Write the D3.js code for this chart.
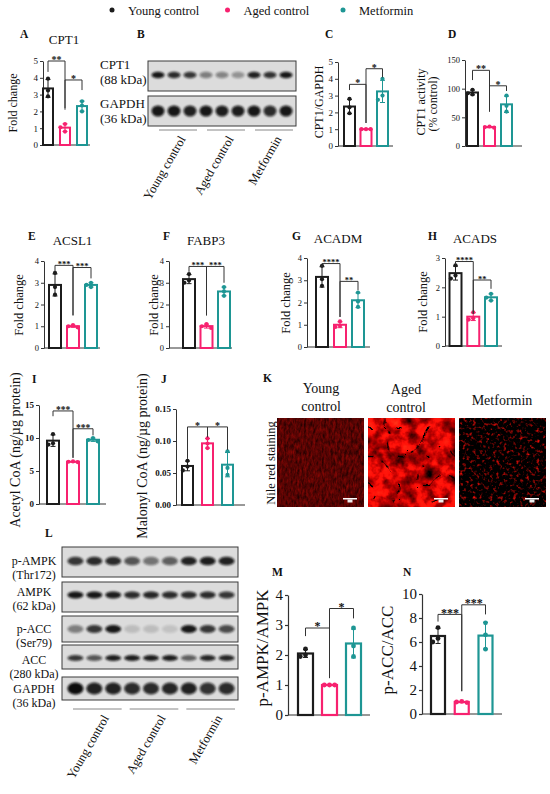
<!DOCTYPE html>
<html>
<head>
<meta charset="utf-8">
<script src="https://cdn.jsdelivr.net/npm/d3@7"></script>
<style>
body { margin: 0; background: #fff; }
svg { display: block; font-family: "Liberation Serif", "Times New Roman", serif; }
</style>
</head>
<body>
<script>
// ------------------------------------------------------------
// Metformin / aged heart: fatty acid oxidation panels A-N
// ------------------------------------------------------------

var groups = ["Young control", "Aged control", "Metformin"];
var groupColors = ["#1c1c1c", "#f7216f", "#1e9694"];

// individual points per group (young, aged, metformin)
var cpt1Fold     = [[3.95, 3.25, 2.9], [1.25, 1.05, 0.8], [2.6, 2.35, 2.0]];
var cpt1Gapdh    = [[2.8, 2.3, 1.95], [1.0, 1.0, 1.0], [4.0, 3.0, 2.75]];
var cpt1Activity = [[98, 92, 90], [34, 33, 32], [88, 70, 60]];
var acsl1        = [[3.45, 2.8, 2.45], [1.05, 1.0, 0.95], [3.0, 2.9, 2.8]];
var fabp3        = [[3.4, 3.1, 3.0], [1.1, 1.0, 0.92], [2.8, 2.6, 2.4]];
var acadm        = [[3.65, 3.05, 2.75], [1.15, 0.95, 0.9], [2.45, 2.05, 1.8]];
var acads        = [[2.75, 2.4, 2.3], [1.15, 0.95, 0.9], [1.78, 1.65, 1.55]];
var acetylCoA    = [[10.6, 9.2, 9.0], [6.45, 6.4, 6.35], [10.0, 9.7, 9.5]];
var malonylCoA   = [[0.069, 0.060, 0.054], [0.104, 0.096, 0.089], [0.084, 0.058, 0.047]];
var pampkRatio   = [[2.2, 2.0, 1.95], [1.0, 1.0, 1.0], [2.9, 2.3, 1.95]];
var paccRatio    = [[7.2, 6.3, 6.0], [1.05, 1.0, 0.95], [7.6, 6.6, 5.4]];

// significance: [from, to, stars, bracket level, left leg end, right leg end]
var cpt1FoldSig     = [[0, 1, "**", 5.0, 4.35, 2.2], [1, 2, "*", 3.87, 2.1, 3.27]];
var cpt1GapdhSig    = [[0, 1, "*", 3.67, 3.33, 1.37], [1, 2, "*", 4.6, 1.37, 4.08]];
var cpt1ActivitySig = [[0, 1, "**", 132, 115, 60], [1, 2, "*", 105, 60, 96]];
var acsl1Sig        = [[0, 1, "***", 3.8, 3.5, 1.5], [1, 2, "***", 3.7, 1.5, 3.2]];
var fabp3Sig        = [[0, 1, "***", 3.75, 3.5, 1.5], [1, 2, "***", 3.75, 1.5, 3.0]];
var acadmSig        = [[0, 1, "****", 3.75, 3.6, 1.35], [1, 2, "**", 2.95, 1.35, 2.55]];
var acadsSig        = [[0, 1, "****", 2.88, 2.78, 1.1], [1, 2, "**", 2.25, 1.1, 1.95]];
var acetylSig       = [[0, 1, "***", 14.1, 13.3, 7.0], [1, 2, "***", 11.4, 7.0, 10.4]];
var malonylSig      = [[0, 1, "*", 0.122, 0.072, 0.106], [1, 2, "*", 0.122, 0.106, 0.086]];
var pampkSig        = [[0, 1, "*", 2.9, 2.63, 1.23], [1, 2, "*", 3.55, 1.23, 3.22]];
var paccSig         = [[0, 1, "***", 8.3, 7.7, 1.9], [1, 2, "***", 9.1, 1.9, 8.3]];

// tick labels
var ticks0to5   = [0, 1, 2, 3, 4, 5];
var ticks0to4   = [0, 1, 2, 3, 4];
var ticks0to3   = [0, 1, 2, 3];
var ticksPct    = [0, 50, 100, 150];
var ticksAcetyl = [0, 5, 10, 15];
var ticksMalon  = [0, 0.05, 0.10, 0.15];
var ticksPacc   = [0, 2, 4, 6, 8, 10];

// western blot band intensities (9 lanes: 3 young, 3 aged, 3 metformin)
var cpt1Bands   = [0.95, 0.85, 0.8, 0.45, 0.42, 0.35, 0.9, 0.82, 0.95];
var gapdhBandsB = [0.95, 0.95, 0.9, 0.95, 0.92, 0.92, 0.95, 0.85, 0.95];
var pampkBands  = [0.8, 0.85, 0.85, 0.65, 0.5, 0.6, 0.9, 0.92, 0.9];
var ampkBands   = [0.95, 0.95, 0.92, 0.85, 0.88, 0.85, 0.85, 0.85, 0.8];
var paccBands   = [0.45, 0.8, 0.95, 0.15, 0.15, 0.12, 0.95, 0.8, 0.7];
var accBands    = [0.8, 0.65, 0.92, 0.92, 0.92, 0.92, 0.6, 0.88, 0.88];
var gapdhBandsL = [1.0, 0.9, 0.9, 0.85, 0.85, 0.88, 0.9, 0.82, 0.85];

var blotBLabels = [["CPT1", "(88 kDa)"], ["GAPDH", "(36 kDa)"]];
var blotLLabels = [["p-AMPK", "(Thr172)"], ["AMPK", "(62 kDa)"], ["p-ACC", "(Ser79)"],
                   ["ACC", "(280 kDa)"], ["GAPDH", "(36 kDa)"]];
var stainTitles = [["Young", "control"], ["Aged", "control"], ["Metformin"]];

var W = 550, H = 794;
var svg = d3.select("body").append("svg")
    .attr("width", W)
    .attr("height", H);

var defs = svg.append("defs");
defs.append("filter").attr("id", "blur")
    .attr("x", "-50%").attr("y", "-80%").attr("width", "200%").attr("height", "260%")
    .append("feGaussianBlur").attr("stdDeviation", 1.1);

function text(x, y, s, size, anchor, weight) {
    return svg.append("text")
        .attr("x", x)
        .attr("y", y)
        .attr("text-anchor", anchor || "start")
        .style("font-size", size + "px")
        .style("font-weight", weight || "normal")
        .attr("fill", "#111")
        .text(s);
}

function yLabel(x, cy, s, size) {
    svg.append("text")
        .attr("transform", "translate(" + x + "," + cy + ") rotate(-90)")
        .attr("text-anchor", "middle")
        .style("font-size", size + "px")
        .attr("fill", "#111")
        .text(s);
}

// simple beeswarm so equal values sit side by side
function swarm(vals, y, r) {
    var placed = [];
    var d = 2 * r + 0.4;
    return vals.map(function(v) {
        var py = y(v);
        var cands = [0, -d, d, -2 * d, 2 * d];
        for (var k = 0; k < cands.length; k++) {
            var ok = placed.every(function(p) {
                return Math.hypot(p[0] - cands[k], p[1] - py) >= 2 * r;
            });
            if (ok) { placed.push([cands[k], py]); return [cands[k], py]; }
        }
        placed.push([0, py]);
        return [0, py];
    });
}

function barPanel(p, data, sigs) {
    var g = svg.append("g");
    var y = d3.scaleLinear().domain(p.domain).range([p.y0, p.y1]);
    var x = d3.scalePoint().domain(d3.range(groups.length)).range(p.c);

    var axis = d3.axisLeft(y)
        .tickValues(p.ticks)
        .tickSize(3)
        .tickSizeOuter(0)
        .tickPadding(2)
        .tickFormat(p.fmt || d3.format("d"));

    var ax = g.append("g")
        .attr("transform", "translate(" + p.ax + ",0)")
        .call(axis);
    ax.select(".domain").attr("stroke", "#333").attr("stroke-width", p.sw || 1);
    ax.selectAll(".tick line").attr("stroke", "#333").attr("stroke-width", p.sw || 1);
    ax.selectAll(".tick text")
        .attr("fill", "#111")
        .style("font-family", "'Liberation Serif', serif")
        .style("font-size", p.tf + "px")
        .style("font-weight", p.tw || "normal");

    // baseline
    g.append("line")
        .attr("x1", p.ax).attr("x2", p.x1)
        .attr("y1", y(0)).attr("y2", y(0))
        .attr("stroke", "#333").attr("stroke-width", p.sw || 1);

    data.forEach(function(pts, i) {
        var m = d3.mean(pts), sd = d3.deviation(pts);
        var col = groupColors[i];
        var cx = x(i);
        g.append("rect")
            .attr("x", cx - p.w / 2)
            .attr("y", y(m))
            .attr("width", p.w)
            .attr("height", y(0) - y(m))
            .attr("fill", "#fff")
            .attr("stroke", col)
            .attr("stroke-width", p.bw || 2);

        g.append("line")
            .attr("x1", cx).attr("x2", cx)
            .attr("y1", y(m - sd)).attr("y2", y(m + sd))
            .attr("stroke", col).attr("stroke-width", 1);
        [m - sd, m + sd].forEach(function(v) {
            g.append("line")
                .attr("x1", cx - 2.5).attr("x2", cx + 2.5)
                .attr("y1", y(v)).attr("y2", y(v))
                .attr("stroke", col).attr("stroke-width", 1);
        });

        var r = p.r || 2.1;
        swarm(pts, y, r).forEach(function(q) {
            g.append("circle")
                .attr("cx", cx + q[0])
                .attr("cy", q[1])
                .attr("r", r)
                .attr("fill", col);
        });
    });

    sigs.forEach(function(s) {
        var xa = x(s[0]), xb = x(s[1]), yl = y(s[3]);
        g.append("path")
            .attr("d", "M" + xa + "," + y(s[4]) + "V" + yl + "H" + xb + "V" + y(s[5]))
            .attr("fill", "none")
            .attr("stroke", "#333")
            .attr("stroke-width", 1);
        g.append("text")
            .attr("x", (xa + xb) / 2)
            .attr("y", yl + (p.sf || 12) * 0.2)
            .attr("text-anchor", "middle")
            .style("font-size", (p.sf || 12) + "px")
            .style("font-weight", "bold")
            .attr("fill", "#111")
            .text(s[2]);
    });
}

function blot(spec) {
    var lane = d3.scaleBand().domain(d3.range(9)).range(spec.lanes);
    spec.rows.forEach(function(r, ri) {
        svg.append("rect")
            .attr("x", spec.x0).attr("y", r.y0)
            .attr("width", spec.x1 - spec.x0).attr("height", r.y1 - r.y0)
            .attr("fill", "#dcdcdc")
            .attr("stroke", "#3a3a3a")
            .attr("stroke-width", 1);
        var cy = (r.y0 + r.y1) / 2 + (r.dy || 0);
        svg.selectAll(null)
            .data(r.bands)
            .enter().append("ellipse")
            .attr("cx", function(d, i) { return lane(i) + lane.bandwidth() / 2; })
            .attr("cy", cy)
            .attr("rx", spec.rx)
            .attr("ry", r.ry)
            .attr("fill", "#0b0b0b")
            .attr("opacity", function(d) { return d; })
            .attr("filter", "url(#blur)");
        var lab = spec.labels[ri];
        lab.forEach(function(s, li) {
            text(spec.labelX, r.ly[li], s, spec.lf, spec.anchor);
        });
    });

    // group underlines + slanted names
    groups.forEach(function(name, gi) {
        var a = lane(gi * 3) + spec.inset[0];
        var b = lane(gi * 3 + 2) + lane.bandwidth() - spec.inset[1];
        svg.append("line")
            .attr("x1", a).attr("x2", b)
            .attr("y1", spec.uy).attr("y2", spec.uy)
            .attr("stroke", "#888").attr("stroke-width", 1);
        var mx = (a + b) / 2 + spec.rot[0];
        svg.append("text")
            .attr("transform", "translate(" + mx + "," + (spec.uy + spec.rot[1]) + ") rotate(-60)")
            .attr("text-anchor", "end")
            .style("font-size", spec.rf + "px")
            .attr("fill", "#111")
            .text(name);
    });
}

// ---------------- legend ----------------
var lx = d3.scalePoint().domain(groups).range([112, 343]);
groups.forEach(function(gname, i) {
    svg.append("circle").attr("cx", lx(gname)).attr("cy", 10).attr("r", 2.5).attr("fill", groupColors[i]);
    text(lx(gname) + 16, 15, gname, 12.5);
});

// ---------------- row 1 ----------------
text(20, 38, "A", 11.5, "start", "bold");
text(64, 44, "CPT1", 13, "middle");
yLabel(17, 103, "Fold change", 12);
barPanel({ ax: 43, x1: 90, c: [48, 82], w: 10, y0: 145, y1: 61, domain: [0, 5],
           ticks: ticks0to5, tf: 9, sf: 10 }, cpt1Fold, cpt1FoldSig);

text(137, 38, "B", 11.5, "start", "bold");
blot({ x0: 148, x1: 296, lanes: [150, 294], rx: 6.5, labelX: 100, anchor: "start", lf: 13, rf: 12.5,
       labels: blotBLabels, uy: 130, inset: [9, 1], rot: [8, 9],
       rows: [{ y0: 61, y1: 91, bands: cpt1Bands, ry: 3.3, dy: -1, ly: [69, 84] },
              { y0: 96, y1: 126, bands: gapdhBandsB, ry: 5.5, ly: [108, 123] }] });

text(325, 38, "C", 11.5, "start", "bold");
yLabel(323, 102, "CPT1/GAPDH", 12);
barPanel({ ax: 338, x1: 393, c: [349.5, 382.5], w: 11, y0: 146, y1: 62, domain: [0, 5],
           ticks: ticks0to5, tf: 9, sf: 10 }, cpt1Gapdh, cpt1GapdhSig);

text(448, 38, "D", 11.5, "start", "bold");
yLabel(425, 102, "CPT1 activity", 12);
yLabel(437, 104, "(% control)", 12);
barPanel({ ax: 465, x1: 522, c: [472.5, 506.5], w: 11, y0: 146, y1: 60, domain: [0, 150],
           ticks: ticksPct, tf: 8.5, sf: 10 }, cpt1Activity, cpt1ActivitySig);

// ---------------- row 2 ----------------
text(28, 240, "E", 11.5, "start", "bold");
text(72.5, 245, "ACSL1", 13, "middle");
yLabel(23, 305, "Fold change", 12.5);
barPanel({ ax: 44, x1: 100, c: [55, 91], w: 12, y0: 348, y1: 261, domain: [0, 4],
           ticks: ticks0to4, tf: 8.5, sf: 8.5 }, acsl1, acsl1Sig);

text(163, 240, "F", 11.5, "start", "bold");
text(206, 245, "FABP3", 13, "middle");
yLabel(158, 305, "Fold change", 12.5);
barPanel({ ax: 169, x1: 232, c: [189, 224], w: 12, y0: 348, y1: 261, domain: [0, 4],
           ticks: ticks0to4, tf: 8.5, sf: 8.5 }, fabp3, fabp3Sig);

text(292, 240, "G", 11.5, "start", "bold");
text(338, 243, "ACADM", 13, "middle");
yLabel(290, 303, "Fold change", 12.5);
barPanel({ ax: 307, x1: 370, c: [322, 358], w: 12, y0: 347, y1: 258, domain: [0, 4],
           ticks: ticks0to4, tf: 8.5, sf: 8.5 }, acadm, acadmSig);

text(428, 240, "H", 11.5, "start", "bold");
text(475, 243, "ACADS", 13, "middle");
yLabel(427, 302, "Fold change", 12.5);
barPanel({ ax: 445, x1: 502, c: [455.5, 491], w: 12, y0: 346, y1: 258, domain: [0, 3],
           ticks: ticks0to3, tf: 8.5, sf: 8.5 }, acads, acadsSig);

// ---------------- row 3 ----------------
text(32, 383, "I", 11.5, "start", "bold");
yLabel(20, 450, "Acetyl CoA (ng/\u00b5g protein)", 14);
barPanel({ ax: 39, x1: 106, c: [53, 93], w: 12, y0: 504, y1: 405, domain: [0, 15],
           ticks: ticksAcetyl, tf: 9, tw: "bold", sf: 9.5 }, acetylCoA, acetylSig);

text(161, 383, "J", 11.5, "start", "bold");
yLabel(147, 456, "Malonyl CoA (ng/\u00b5g protein)", 14);
barPanel({ ax: 176, x1: 245, c: [187.5, 227.5], w: 11, y0: 505, y1: 409, domain: [0, 0.15],
           ticks: ticksMalon, fmt: d3.format(".2f"), tf: 9, tw: "bold", sf: 10 }, malonylCoA, malonylSig);

// K: Nile red staining micrographs
text(263, 382, "K", 11.5, "start", "bold");
yLabel(275, 463, "Nile red staining", 12.5);

function stainFilter(id, layers) {
    var f = defs.append("filter").attr("id", id)
        .attr("x", 0).attr("y", 0).attr("width", "100%").attr("height", "100%")
        .attr("color-interpolation-filters", "sRGB");
    layers(f);
}
stainFilter("stainYoung", function(f) {
    f.append("feTurbulence").attr("type", "fractalNoise").attr("baseFrequency", "0.45 0.18")
        .attr("numOctaves", 3).attr("seed", 4);
    f.append("feColorMatrix").attr("type", "matrix")
        .attr("values", "0.55 0 0 0 0.06  0.03 0 0 0 0  0.02 0 0 0 0  0 0 0 0 1");
});
stainFilter("stainAged", function(f) {
    f.append("feTurbulence").attr("type", "fractalNoise").attr("baseFrequency", "0.06")
        .attr("numOctaves", 4).attr("seed", 7).attr("result", "n1");
    f.append("feColorMatrix").attr("in", "n1").attr("type", "matrix")
        .attr("values", "2.3 0 0 0 -0.38  0.5 0 0 0 -0.24  0.25 0 0 0 -0.12  0 0 0 0 1")
        .attr("result", "c1");
    f.append("feTurbulence").attr("type", "turbulence").attr("baseFrequency", "0.035")
        .attr("numOctaves", 2).attr("seed", 11).attr("result", "n2");
    f.append("feColorMatrix").attr("in", "n2").attr("type", "matrix")
        .attr("values", "0 0 0 0 0  0 0 0 0 0  0 0 0 0 0  16 0 0 0 -0.15")
        .attr("result", "m2");
    f.append("feComposite").attr("in", "c1").attr("in2", "m2").attr("operator", "in");
});
stainFilter("stainMet", function(f) {
    f.append("feTurbulence").attr("type", "fractalNoise").attr("baseFrequency", "0.3")
        .attr("numOctaves", 2).attr("seed", 21);
    f.append("feColorMatrix").attr("type", "matrix")
        .attr("values", "2.5 0 0 0 -1.3  0.15 0 0 0 -0.08  0.08 0 0 0 -0.04  0 0 0 0 1");
});

var stainX = d3.scalePoint().domain(d3.range(3)).range([277, 459]);
var stainIds = ["stainYoung", "stainAged", "stainMet"];
var stainTitleY = [[393, 411], [394, 412], [405]];
var stainTitleX = [321, 406, 502];
stainIds.forEach(function(id, i) {
    var x0 = stainX(i);
    svg.append("rect").attr("x", x0).attr("y", 418).attr("width", 87).attr("height", 89).attr("fill", "#000");
    svg.append("rect").attr("x", x0).attr("y", 418).attr("width", 87).attr("height", 89)
        .attr("fill", "#300").attr("filter", "url(#" + id + ")");
    // scale bar
    svg.append("rect").attr("x", x0 + 66).attr("y", 498).attr("width", 14).attr("height", 1.5).attr("fill", "#fff");
    svg.append("rect").attr("x", x0 + 70.5).attr("y", 499.5).attr("width", 5).attr("height", 3).attr("fill", "#eee");
    stainTitles[i].forEach(function(s, li) {
        text(stainTitleX[i], stainTitleY[i][li], s, 14, "middle");
    });
});

// ---------------- row 4 ----------------
text(45, 537, "L", 11.5, "start", "bold");
blot({ x0: 62, x1: 238, lanes: [66, 236], rx: 8, labelX: 34, anchor: "middle", lf: 12, rf: 12.5,
       labels: blotLLabels, uy: 709, inset: [7, 1], rot: [12, 9],
       rows: [{ y0: 547, y1: 577, bands: pampkBands, ry: 4.3, dy: -1, ly: [565, 579] },
              { y0: 582, y1: 612, bands: ampkBands, ry: 3.4, dy: -2, ly: [596, 610] },
              { y0: 616, y1: 642, bands: paccBands, ry: 4, ly: [633, 647] },
              { y0: 645, y1: 669, bands: accBands, ry: 3, dy: 1, ly: [664, 678] },
              { y0: 677, y1: 700, bands: gapdhBandsL, ry: 6, ly: [693, 707] }] });

text(272, 576, "M", 11.5, "start", "bold");
yLabel(268, 648, "p-AMPK/AMPK", 17);
barPanel({ ax: 288, x1: 370, c: [305.5, 353.5], w: 15, y0: 715, y1: 595, domain: [0, 4],
           ticks: ticks0to4, tf: 15, sf: 12, r: 2.4, bw: 2.2, sw: 1.2 }, pampkRatio, pampkSig);

text(403, 576, "N", 11.5, "start", "bold");
yLabel(393, 650, "p-ACC/ACC", 17);
barPanel({ ax: 422, x1: 502, c: [438, 485.5], w: 14, y0: 714, y1: 594, domain: [0, 10],
           ticks: ticksPacc, tf: 15, sf: 12, r: 2.4, bw: 2.2, sw: 1.2 }, paccRatio, paccSig);
</script>
</body>
</html>
